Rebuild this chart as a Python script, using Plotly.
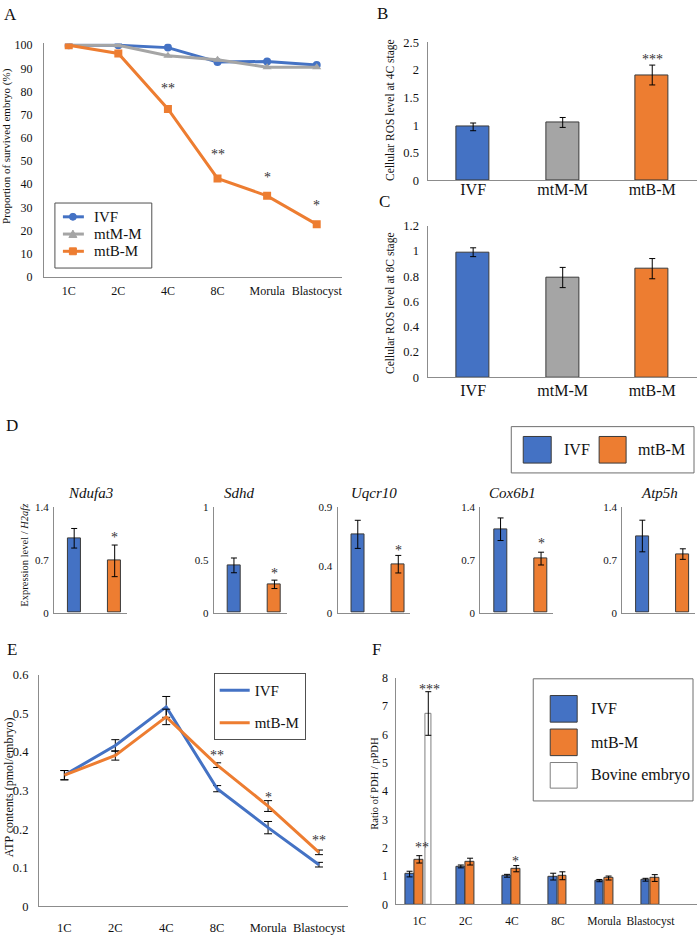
import plotly.graph_objects as go

W, H = 698, 936
def px(x): return min(max(x / W, 0), 1)
def py(y): return min(max(1 - y / H, 0), 1)

FONT = "Liberation Serif"
BLUE = "#4472C4"; ORANGE = "#ED7D31"; GRAY = "#A5A5A5"
AXC = "#8C8C8C"; EDGE = "#3A3A3A"; TXT = "#111111"

# ---------------- data ----------------
stages = ["1C", "2C", "4C", "8C", "Morula", "Blastocyst"]
surv_ivf = [100, 100, 99, 92.8, 93, 91.5]
surv_mtm = [100, 100, 95.5, 93.8, 90.5, 90.5]
surv_mtb = [100, 96.5, 72.5, 42.5, 35, 22.7]
surv_sig = ["", "", "**", "**", "*", "*"]
surv_sig_y = [0, 0, 82.5, 54, 44, 32]

ros_groups = ["IVF", "mtM-M", "mtB-M"]
ros4c = [0.97, 1.05, 1.91]
ros4c_err = [0.07, 0.09, 0.18]
ros8c = [0.99, 0.79, 0.86]
ros8c_err = [0.035, 0.08, 0.08]

genes = ["Ndufa3", "Sdhd", "Uqcr10", "Cox6b1", "Atp5h"]
d_groups = ["IVF", "mtB-M"]
expr_ivf = [0.99, 0.45, 0.67, 1.11, 1.02]
expr_ivf_err = [0.13, 0.07, 0.12, 0.15, 0.21]
expr_mtb = [0.69, 0.27, 0.415, 0.72, 0.78]
expr_mtb_err = [0.21, 0.04, 0.075, 0.085, 0.07]
expr_sig = ["*", "*", "*", "*", ""]
expr_sig_y = [1.04, 0.40, 0.56, 0.96, 0]
gene_ymax = [1.4, 1.0, 0.9, 1.4, 1.4]
gene_ticks = [[0, 0.7, 1.4], [0, 0.5, 1], [0, 0.4, 0.9], [0, 0.7, 1.4], [0, 0.7, 1.4]]

atp_ivf = [0.340, 0.417, 0.517, 0.305, 0.204, 0.108]
atp_ivf_err = [0.012, 0.015, 0.027, 0.008, 0.016, 0.006]
atp_mtb = [0.340, 0.391, 0.491, 0.366, 0.260, 0.140]
atp_mtb_err = [0.012, 0.012, 0.020, 0.006, 0.014, 0.006]
atp_sig = ["", "", "", "**", "*", "**"]
atp_sig_y = [0, 0, 0, 0.40, 0.29, 0.178]

pdh_ivf = [1.07, 1.34, 1.01, 0.98, 0.84, 0.87]
pdh_ivf_err = [0.10, 0.05, 0.05, 0.12, 0.04, 0.05]
pdh_mtb = [1.59, 1.51, 1.26, 1.01, 0.93, 0.93]
pdh_mtb_err = [0.13, 0.12, 0.11, 0.14, 0.07, 0.12]
pdh_bov = [6.74]
pdh_bov_err = [0.77]

fig = go.Figure()

def eb(arr, w=3):
    return dict(type="data", array=arr, visible=True, color="black", thickness=1, width=w)

def axes(n, xdom, ydom, xrange, yrange, xkw=None, ykw=None):
    s = "" if n == 1 else str(n)
    xa = dict(domain=[px(xdom[0]), px(xdom[1])], range=xrange, anchor="y" + s,
              showline=True, linecolor=AXC, linewidth=1, showgrid=False, zeroline=False,
              ticks="", type="category",
              tickfont=dict(family=FONT, size=12, color=TXT))
    ya = dict(domain=[py(ydom[1]), py(ydom[0])], range=yrange, anchor="x" + s,
              showline=True, linecolor=AXC, linewidth=1, showgrid=False, zeroline=False,
              ticks="", tickfont=dict(family=FONT, size=12, color=TXT))
    if xkw: xa.update(xkw)
    if ykw: ya.update(ykw)
    fig.update_layout(**{"xaxis" + s: xa, "yaxis" + s: ya})
    return "x" + s, "y" + s

# ---------------- A ----------------
xa, ya = axes(1, (44, 342), (37, 274), [-0.5, 5.5], [0, 100.8],
              xkw=dict(ticklabelstandoff=3), ykw=dict(dtick=10, ticklabelstandoff=8))
for name, vals, col, sym in [("IVF", surv_ivf, BLUE, "circle"),
                             ("mtM-M", surv_mtm, GRAY, "triangle-up"),
                             ("mtB-M", surv_mtb, ORANGE, "square")]:
    fig.add_trace(go.Scatter(x=stages, y=vals, name=name, mode="lines+markers",
                             line=dict(color=col, width=3),
                             marker=dict(symbol=sym, size=8, color=col),
                             showlegend=False, xaxis=xa, yaxis=ya))

# ---------------- B ----------------
xa, ya = axes(2, (429, 698), (36, 176), [-0.5, 2.5], [0, 2.5],
              xkw=dict(tickfont=dict(family=FONT, size=16, color=TXT), ticklabelstandoff=-6),
              ykw=dict(dtick=0.5, ticklabelstandoff=6, tickfont=dict(family=FONT, size=12.5, color=TXT)))
fig.add_trace(go.Bar(x=ros_groups, y=ros4c, width=0.37, error_y=eb(ros4c_err),
                     marker=dict(color=[BLUE, GRAY, ORANGE], line=dict(color=EDGE, width=1)),
                     showlegend=False, xaxis=xa, yaxis=ya))

# ---------------- C ----------------
xa, ya = axes(3, (429, 698), (222, 376), [-0.5, 2.5], [0, 1.2],
              xkw=dict(tickfont=dict(family=FONT, size=16, color=TXT), ticklabelstandoff=-2),
              ykw=dict(dtick=0.2, ticklabelstandoff=6, tickfont=dict(family=FONT, size=12.5, color=TXT)))
fig.add_trace(go.Bar(x=ros_groups, y=ros8c, width=0.37, error_y=eb(ros8c_err),
                     marker=dict(color=[BLUE, GRAY, ORANGE], line=dict(color=EDGE, width=1)),
                     showlegend=False, xaxis=xa, yaxis=ya))

# ---------------- D ----------------
d_x0 = [54, 214, 338, 481, 623]
d_title_x = [91, 240, 375, 513, 660]
d_axes = []
for i, g in enumerate(genes):
    n = 4 + i
    xa, ya = axes(n, (d_x0[i], d_x0[i] + 73), (508, 615), [-0.5, 1.3], [0, gene_ymax[i]],
                  xkw=dict(showticklabels=False),
                  ykw=dict(tickvals=gene_ticks[i], ticklabelstandoff=2,
                           tickfont=dict(family=FONT, size=11, color=TXT)))
    d_axes.append((xa, ya))
    fig.add_trace(go.Bar(x=d_groups, y=[expr_ivf[i], expr_mtb[i]], width=0.32,
                         error_y=eb([expr_ivf_err[i], expr_mtb_err[i]], 3),
                         marker=dict(color=[BLUE, ORANGE], line=dict(color=EDGE, width=1)),
                         showlegend=False, xaxis=xa, yaxis=ya))

# ---------------- E ----------------
xa_e, ya_e = axes(9, (39, 348), (678, 913), [-0.5, 5.56], [0, 0.6],
                  xkw=dict(ticklabelstandoff=10, tickfont=dict(family=FONT, size=12.5, color=TXT)),
                  ykw=dict(dtick=0.1, ticklabelstandoff=7, tickfont=dict(family=FONT, size=12.5, color=TXT)))
for name, vals, err, col in [("IVF", atp_ivf, atp_ivf_err, BLUE), ("mtB-M", atp_mtb, atp_mtb_err, ORANGE)]:
    fig.add_trace(go.Scatter(x=stages, y=vals, name=name, mode="lines",
                             line=dict(color=col, width=3), error_y=eb(err, 4),
                             legendgroup=name, xaxis=xa_e, yaxis=ya_e, legend="legend"))

# ---------------- F ----------------
xa_f, ya_f = axes(10, (397, 698), (681, 911), [-0.5, 6.01], [0, 8],
                  xkw=dict(ticklabelstandoff=6, tickfont=dict(family=FONT, size=11.5, color=TXT)),
                  ykw=dict(dtick=1, ticklabelstandoff=5, tickfont=dict(family=FONT, size=12, color=TXT)))
fig.add_trace(go.Bar(x=stages, y=pdh_ivf, width=0.19, offset=[-0.31, -0.2, -0.2, -0.2, -0.2, -0.2],
                     error_y=eb(pdh_ivf_err), marker=dict(color=BLUE, line=dict(color=EDGE, width=1)),
                     showlegend=False, xaxis=xa_f, yaxis=ya_f))
fig.add_trace(go.Bar(x=stages, y=pdh_mtb, width=0.19, offset=[-0.1, 0.0, 0.0, 0.0, 0.0, 0.0],
                     error_y=eb(pdh_mtb_err), marker=dict(color=ORANGE, line=dict(color=EDGE, width=1)),
                     showlegend=False, xaxis=xa_f, yaxis=ya_f))
fig.add_trace(go.Bar(x=stages[:1], y=pdh_bov, width=0.14, offset=0.12,
                     error_y=eb(pdh_bov_err), marker=dict(color="white", line=dict(color="#7F7F7F", width=1)),
                     showlegend=False, xaxis=xa_f, yaxis=ya_f))

# ---------------- annotations ----------------
ann = []
def txt(x, y, t, size, angle=0, italic=False, xanchor="center", yanchor="middle"):
    ann.append(dict(x=px(x), y=py(y), xref="paper", yref="paper", text=t, showarrow=False,
                    textangle=angle, xanchor=xanchor, yanchor=yanchor,
                    font=dict(family=FONT, size=size, color=TXT,
                              style="italic" if italic else "normal")))

def star(xref, yref, x, y, t, size=14, xshift=0):
    ann.append(dict(x=x, y=y, xref=xref, yref=yref, text=t, showarrow=False,
                    xshift=xshift, yshift=-3, font=dict(family=FONT, size=size, color="#333333")))

# panel letters
for L, x, y in [("A", 11, 8), ("B", 383, 7), ("C", 385, 197), ("D", 12, 425), ("E", 12, 652), ("F", 377, 652)]:
    txt(x, y, L, 17)

# y titles
txt(7, 141, "Proportion of survived embryo (%)", 11, angle=-90)
txt(391, 104, "Cellular ROS level at 4C stage", 11.5, angle=-90)
txt(391, 300, "Cellular ROS level at 8C stage", 11.5, angle=-90)
txt(25, 556, "Expression level / <i>H2afz</i>", 10.5, angle=-90)
txt(9, 792, "ATP contents (pmol/embryo)", 12, angle=-90)
txt(375, 788, "Ratio of PDH / pPDH", 10.5, angle=-90)

# gene titles
for i, g in enumerate(genes):
    txt(d_title_x[i], 493, g, 15, italic=True)

# significance marks
for s, v, c in zip(surv_sig, surv_sig_y, stages):
    if s: star("x", "y", c, v, s)
star("x2", "y2", "mtB-M", 2.24, "***")
for i in range(5):
    if expr_sig[i]:
        star(d_axes[i][0], d_axes[i][1], "mtB-M", expr_sig_y[i], expr_sig[i])
for s, v, c in zip(atp_sig, atp_sig_y, stages):
    if s: star(xa_e, ya_e, c, v, s)
star(xa_f, ya_f, "1C", 2.12, "**", xshift=2)
star(xa_f, ya_f, "1C", 7.7, "***", xshift=10)
star(xa_f, ya_f, "4C", 1.63, "*", xshift=4)

# legends drawn Excel-style (box, keys, labels)
shapes = []
def rect(x0, y0, x1, y1, fill, line, lw=1, kind="rect"):
    shapes.append(dict(type=kind, xref="paper", yref="paper", x0=px(x0), x1=px(x1),
                       y0=py(y1), y1=py(y0), fillcolor=fill, line=dict(color=line, width=lw)))
def seg(x0, y0, x1, y1, color, lw):
    shapes.append(dict(type="line", xref="paper", yref="paper", x0=px(x0), x1=px(x1),
                       y0=py(y0), y1=py(y1), line=dict(color=color, width=lw)))

# A legend
rect(55, 199, 152, 265, "white", "#505050")
a_leg = [("IVF", BLUE, "circle", 213), ("mtM-M", GRAY, "triangle", 230.5), ("mtB-M", ORANGE, "square", 248)]
for name, col, sym, yy in a_leg:
    seg(63, yy, 84, yy, col, 3)
    if sym == "circle":
        rect(69.5, yy - 3.5, 76.5, yy + 3.5, col, col, 1, "circle")
    elif sym == "square":
        rect(69.5, yy - 3.5, 76.5, yy + 3.5, col, col)
    else:
        shapes.append(dict(type="path", xref="paper", yref="paper",
                           path=f"M {px(69)} {py(yy + 3.5)} L {px(77)} {py(yy + 3.5)} L {px(73)} {py(yy - 4)} Z",
                           fillcolor=col, line=dict(color=col, width=1)))
    txt(92, yy, name, 15, xanchor="left")

# D legend
rect(512, 426, 695, 473, "rgba(0,0,0,0)", "#6E6E6E")
rect(524, 436, 552, 463, BLUE, EDGE)
txt(563, 449.5, "IVF", 16, xanchor="left")
rect(600, 436, 627, 463, ORANGE, EDGE)
txt(637, 449.5, "mtB-M", 16, xanchor="left")

# F legend
rect(534, 682, 694, 806, "rgba(0,0,0,0)", "#6E6E6E")
rect(551, 699, 578, 726, BLUE, EDGE)
txt(590, 712.5, "IVF", 16, xanchor="left")
rect(551, 733, 578, 760, ORANGE, EDGE)
txt(590, 746.5, "mtB-M", 16, xanchor="left")
rect(551, 767, 578, 793, "white", "#7F7F7F")
txt(590, 780, "Bovine embryo", 16, xanchor="left")

fig.update_layout(
    width=W, height=H, margin=dict(l=0, r=0, t=0, b=0),
    paper_bgcolor="white", plot_bgcolor="white",
    barmode="overlay", bargap=0,
    annotations=ann, shapes=shapes,
    font=dict(family=FONT, color=TXT),
    legend=dict(x=px(214), y=py(676), xanchor="left", yanchor="top",
                bordercolor="#505050", borderwidth=1, bgcolor="white",
                font=dict(family=FONT, size=15, color=TXT), itemwidth=30, tracegroupgap=10),
)

fig.write_html("out.html", config={"displayModeBar": False},
               post_script="document.body.style.margin='0';document.body.style.padding='0';")
